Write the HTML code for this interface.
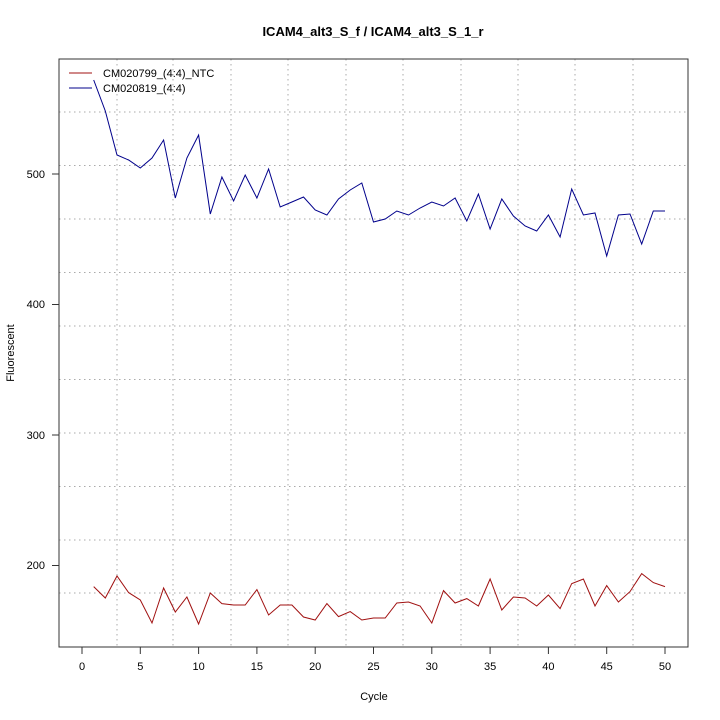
<!DOCTYPE html>
<html><head><meta charset="utf-8"><style>body{margin:0;background:#fff}svg{display:block}</style></head>
<body>
<svg width="720" height="720" viewBox="0 0 720 720" xmlns="http://www.w3.org/2000/svg" font-family="Liberation Sans, sans-serif">
<rect width="720" height="720" fill="#fff"/>
<text x="373" y="36" font-size="13" font-weight="bold" text-anchor="middle">ICAM4_alt3_S_f / ICAM4_alt3_S_1_r</text>
<g stroke="#aaa" stroke-dasharray="1.5,3.5" stroke-width="1">
<line x1="117" y1="59" x2="117" y2="647"/><line x1="173" y1="59" x2="173" y2="647"/><line x1="231" y1="59" x2="231" y2="647"/><line x1="288" y1="59" x2="288" y2="647"/><line x1="346" y1="59" x2="346" y2="647"/><line x1="403" y1="59" x2="403" y2="647"/><line x1="461" y1="59" x2="461" y2="647"/><line x1="518" y1="59" x2="518" y2="647"/><line x1="575" y1="59" x2="575" y2="647"/><line x1="633" y1="59" x2="633" y2="647"/>
<line x1="59" y1="112" x2="688" y2="112"/><line x1="59" y1="165.5" x2="688" y2="165.5"/><line x1="59" y1="219" x2="688" y2="219"/><line x1="59" y1="272.5" x2="688" y2="272.5"/><line x1="59" y1="326" x2="688" y2="326"/><line x1="59" y1="379.5" x2="688" y2="379.5"/><line x1="59" y1="433" x2="688" y2="433"/><line x1="59" y1="486.5" x2="688" y2="486.5"/><line x1="59" y1="540" x2="688" y2="540"/><line x1="59" y1="593" x2="688" y2="593"/>
</g>
<rect x="59" y="59" width="629" height="588" fill="none" stroke="#333" stroke-width="1"/>
<g stroke="#333">
<line x1="82" y1="647" x2="82" y2="654"/><line x1="140.3" y1="647" x2="140.3" y2="654"/><line x1="198.6" y1="647" x2="198.6" y2="654"/><line x1="256.9" y1="647" x2="256.9" y2="654"/><line x1="315.2" y1="647" x2="315.2" y2="654"/><line x1="373.5" y1="647" x2="373.5" y2="654"/><line x1="431.8" y1="647" x2="431.8" y2="654"/><line x1="490.1" y1="647" x2="490.1" y2="654"/><line x1="548.4" y1="647" x2="548.4" y2="654"/><line x1="606.7" y1="647" x2="606.7" y2="654"/><line x1="665" y1="647" x2="665" y2="654"/>
<line x1="52" y1="174" x2="59" y2="174"/><line x1="52" y1="304.5" x2="59" y2="304.5"/><line x1="52" y1="435" x2="59" y2="435"/><line x1="52" y1="565.5" x2="59" y2="565.5"/>
</g>
<g font-size="11" text-anchor="middle">
<text x="82" y="670">0</text><text x="140.3" y="670">5</text><text x="198.6" y="670">10</text><text x="256.9" y="670">15</text><text x="315.2" y="670">20</text><text x="373.5" y="670">25</text><text x="431.8" y="670">30</text><text x="490.1" y="670">35</text><text x="548.4" y="670">40</text><text x="606.7" y="670">45</text><text x="665" y="670">50</text>
</g>
<g font-size="11" text-anchor="end">
<text x="45" y="178">500</text><text x="45" y="308">400</text><text x="45" y="439">300</text><text x="45" y="569">200</text>
</g>
<text x="374" y="700" font-size="11" text-anchor="middle">Cycle</text>
<text transform="translate(14,353) rotate(-90)" font-size="11" text-anchor="middle">Fluorescent</text>
<polyline fill="none" stroke="#00008b" stroke-width="1" points="93.7,80 105.3,111 117,155 128.6,160 140.3,168 152,158 163.6,140 175.3,198 186.9,158 198.6,135 210.3,214 221.9,177 233.6,201 245.2,175 256.9,198 268.6,169 280.2,207 291.9,202 303.5,197 315.2,210 326.9,215 338.5,199 350.2,190 361.8,183 373.5,222 385.2,219 396.8,211 408.5,215 420.1,208 431.8,202 443.5,206 455.1,198 466.8,221 478.4,194 490.1,229 501.8,199 513.4,216 525.1,226 536.7,231 548.4,215 560.1,237 571.7,189 583.4,215 595,213 606.7,256 618.4,215 630,214 641.7,244 653.3,211 665,211"/>
<polyline fill="none" stroke="#a01010" stroke-width="1" points="93.7,586.6 105.3,598 117,576 128.6,592.6 140.3,600 152,623 163.6,588 175.3,612 186.9,597 198.6,624 210.3,593 221.9,603.6 233.6,605 245.2,605 256.9,589.6 268.6,615 280.2,605 291.9,605 303.5,617 315.2,620 326.9,603.6 338.5,616.6 350.2,611.6 361.8,620 373.5,618 385.2,618 396.8,603 408.5,602 420.1,606 431.8,623 443.5,590.6 455.1,603 466.8,598.6 478.4,606 490.1,579 501.8,610 513.4,597 525.1,598 536.7,606 548.4,595 560.1,608.6 571.7,583.6 583.4,579 595,606 606.7,585.6 618.4,602 630,591.6 641.7,573.6 653.3,582.6 665,586.6"/>
<line x1="69" y1="73" x2="92" y2="73" stroke="#a01010"/>
<line x1="69" y1="88" x2="92" y2="88" stroke="#00008b"/>
<text x="103" y="77" font-size="11">CM020799_(4:4)_NTC</text>
<text x="103" y="92" font-size="11">CM020819_(4:4)</text>
</svg>
</body></html>
